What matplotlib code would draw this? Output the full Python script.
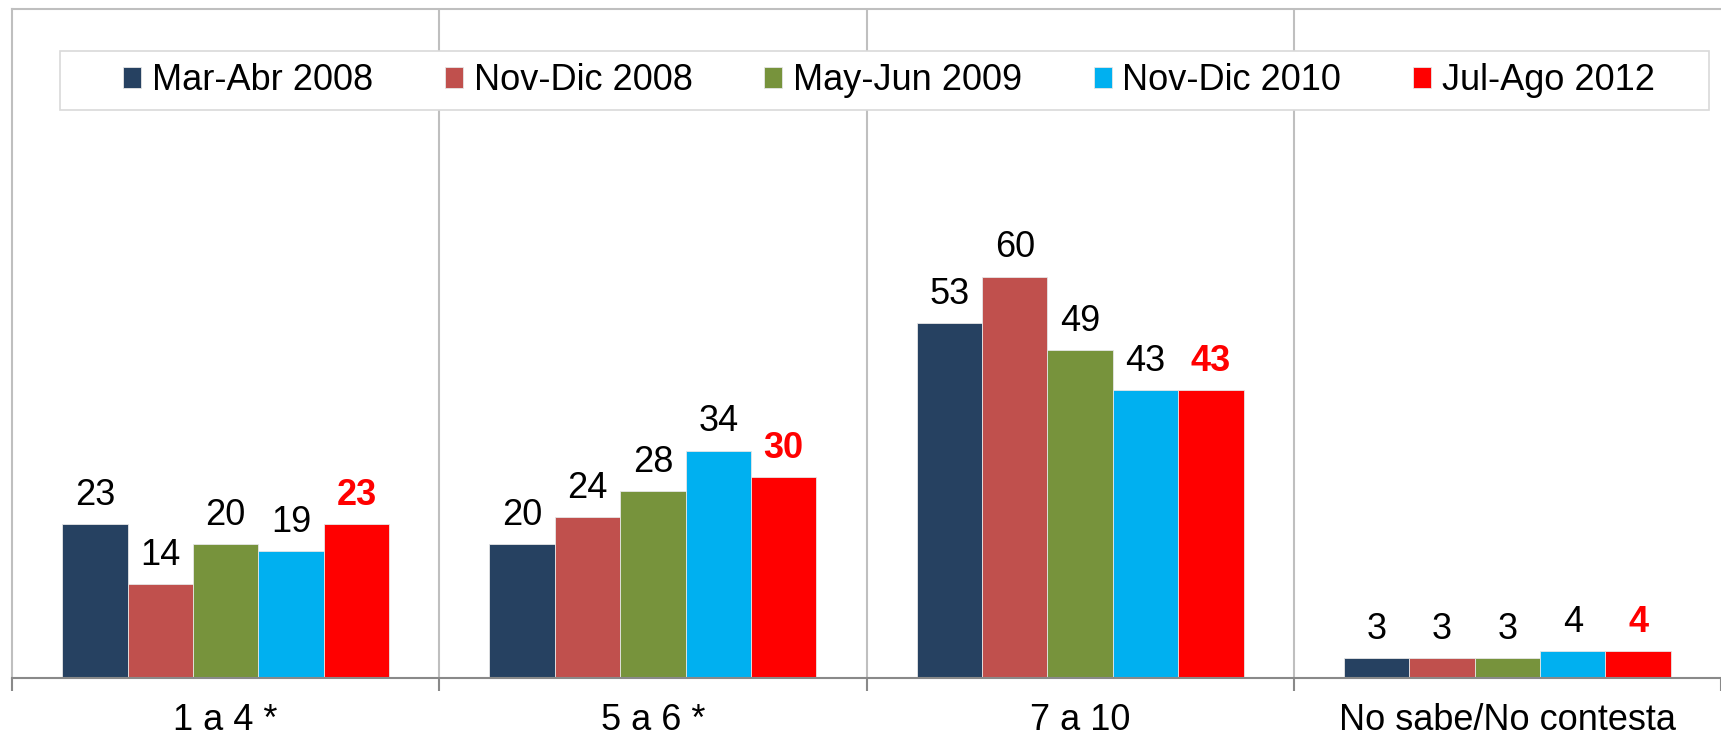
import numpy as np
import matplotlib.pyplot as plt
from matplotlib.patches import Rectangle

plt.rcParams['font.family'] = ['Liberation Sans', 'DejaVu Sans']

categories = ["1 a 4 *", "5 a 6 *", "7 a 10", "No sabe/No contesta"]
series = ["Mar-Abr 2008", "Nov-Dic 2008", "May-Jun 2009", "Nov-Dic 2010", "Jul-Ago 2012"]
mar_abr_2008 = [23, 20, 53, 3]
nov_dic_2008 = [14, 24, 60, 3]
may_jun_2009 = [20, 28, 49, 3]
nov_dic_2010 = [19, 34, 43, 4]
jul_ago_2012 = [23, 30, 43, 4]
values = [mar_abr_2008, nov_dic_2008, may_jun_2009, nov_dic_2010, jul_ago_2012]
colors = ["#264161", "#C0504D", "#77933C", "#00B0F0", "#FF0000"]

W, H = 1721, 739
fig = plt.figure(figsize=(W / 100, H / 100), dpi=100)
ax = fig.add_axes([12 / W, 61 / H, 1 - 12 / W, (678 - 9) / H])

x = np.arange(len(categories))
bw = 0.153
for i, (name, vals, c) in enumerate(zip(series, values, colors)):
    bars = ax.bar(x + (i - 2) * bw, vals, bw, color=c, label=name,
                  edgecolor="#E6E6E6", linewidth=0.6)
    last = i == len(series) - 1
    ax.bar_label(bars, padding=8, fontsize=26,
                 color="#FF0000" if last else "black",
                 fontweight="bold" if last else "normal")

ax.set_ylim(0, 100)
ax.set_xlim(-0.5, -0.5 + (W - 12) / 431)

# spines and grid
for s in ["left", "top"]:
    ax.spines[s].set_color("#BFBFBF")
    ax.spines[s].set_linewidth(1.5)
ax.spines["right"].set_visible(False)
ax.spines["bottom"].set_color("#898989")
ax.spines["bottom"].set_linewidth(1.5)
for b in [0.5, 1.5, 2.5]:
    ax.axvline(b, color="#BFBFBF", lw=1.5, zorder=0)

ax.set_yticks([])
ax.set_xticks(x)
ax.set_xticklabels(categories, fontsize=26)
ax.tick_params(axis="x", which="major", length=0, pad=18)
ax.set_xticks([-0.5, 0.5, 1.5, 2.5, 3.5], minor=True)
ax.tick_params(axis="x", which="minor", length=9, width=1.5, color="#898989")

# legend box
fig.patches.append(Rectangle((60 / W, 1 - 110 / H), (1709 - 60) / W, 59 / H,
                             transform=fig.transFigure, facecolor="white",
                             edgecolor="#D9D9D9", lw=1.2, zorder=1))
leg = fig.legend(loc="center", bbox_to_anchor=(889 / W, 1 - 81 / H), ncol=5,
                 frameon=False, fontsize=26, handlelength=0.5, handleheight=0.5,
                 handletextpad=0.3, columnspacing=1.98, borderpad=0)

fig.savefig("out.png", dpi=100)
